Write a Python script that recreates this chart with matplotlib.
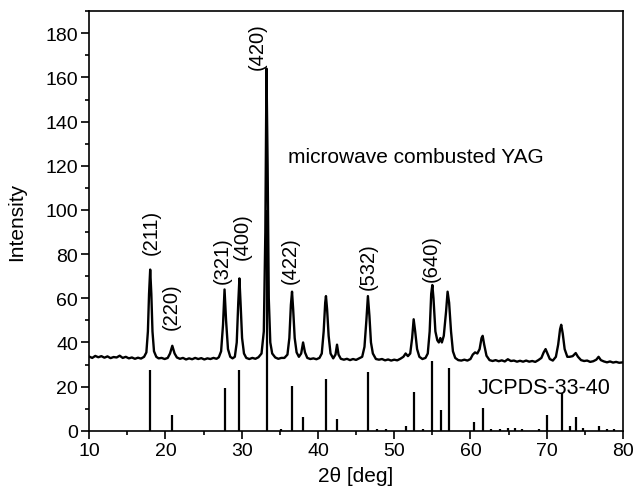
import matplotlib
matplotlib.use("Agg")
import matplotlib.pyplot as plt
from matplotlib.ticker import MultipleLocator

plt.rcParams['font.family'] = ['Liberation Sans', 'DejaVu Sans']

pattern_x = [10.0, 10.4, 10.8, 11.2, 11.6, 12.0, 12.4, 12.8, 13.2, 13.6, 14.0, 14.4, 14.8, 15.2, 15.6, 16.0, 16.4, 16.8, 17.2,
             17.5, 17.7, 17.85, 18.0, 18.15, 18.3, 18.5, 18.8, 19.1, 19.5, 19.9, 20.3, 20.6, 20.9, 21.2, 21.5, 21.9, 22.3,
             22.7, 23.1, 23.5, 23.9, 24.3, 24.7, 25.1, 25.5, 25.9, 26.3, 26.7, 27.0, 27.3, 27.55, 27.75, 27.95, 28.2, 28.5,
             28.8, 29.1, 29.35, 29.55, 29.7, 29.85, 30.05, 30.3, 30.6, 31.0, 31.4, 31.8, 32.2, 32.6, 32.9, 33.1, 33.25,
             33.4, 33.55, 33.75, 34.0, 34.4, 34.8, 35.2, 35.6, 36.0, 36.25, 36.45, 36.6, 36.75, 36.95, 37.2, 37.5, 37.8,
             38.05, 38.3, 38.6, 39.0, 39.4, 39.8, 40.2, 40.5, 40.75, 40.95, 41.05, 41.2, 41.4, 41.65, 42.0, 42.3, 42.5,
             42.7, 43.0, 43.4, 43.8, 44.2, 44.6, 45.0, 45.4, 45.8, 46.1, 46.35, 46.55, 46.75, 46.95, 47.2, 47.6, 48.0,
             48.4, 48.8, 49.2, 49.6, 50.0, 50.4, 50.8, 51.2, 51.5, 51.8, 52.1, 52.35, 52.55, 52.75, 53.0, 53.3, 53.7,
             54.1, 54.4, 54.65, 54.85, 55.0, 55.15, 55.4, 55.65, 55.85, 56.05, 56.25, 56.5, 56.8, 57.0, 57.2, 57.45,
             57.7, 58.0, 58.4, 58.8, 59.2, 59.6, 60.0, 60.3, 60.6, 60.9, 61.2, 61.45, 61.6, 61.8, 62.1, 62.5, 62.9,
             63.3, 63.7, 64.1, 64.5, 64.9, 65.3, 65.7, 66.1, 66.5, 66.9, 67.3, 67.7, 68.1, 68.5, 68.9, 69.3, 69.6,
             69.85, 70.1, 70.4, 70.8, 71.2, 71.5, 71.75, 71.9, 72.1, 72.35, 72.7, 73.0, 73.4, 73.8, 74.1, 74.5, 74.9,
             75.3, 75.7, 76.1, 76.5, 76.8, 77.1, 77.5, 77.9, 78.3, 78.7, 79.1, 79.5, 80.0]
pattern_y = [33.6, 33.0, 33.9, 33.3, 33.8, 33.1, 33.7, 32.9, 33.4, 33.2, 34.0, 33.0, 33.5, 32.8, 33.2, 32.6, 33.1, 32.7, 33.5,
             35.5, 45, 62, 73, 62, 45, 36, 33.5, 32.8, 33.0, 32.5, 33.0, 35, 38.5, 35, 33.2, 32.6, 33.0,
             32.3, 32.8, 32.4, 33.0, 32.5, 32.9, 32.3, 32.8, 32.5, 33.0, 32.6, 33.3, 36, 48, 64, 50, 37, 33.5,
             32.8, 33.5, 40, 58, 69, 58, 42, 35, 33, 32.5, 33.0, 32.6, 33.3, 35, 45, 90, 164,
             120, 60, 40, 35, 33.2, 32.6, 33.0, 33.0, 34.5, 42, 57, 63, 55, 42, 35.5, 33.5, 35,
             40, 35.5, 33, 32.5, 32.8, 32.4, 33, 35, 45, 58, 61, 55, 43, 35, 32.8, 34.5, 39,
             34.5, 32.6, 32.2, 32.6, 32.0, 32.5, 32.1, 32.8, 33.5, 38, 50, 61, 52, 40, 35, 32.5, 32.2,
             32.5, 31.9, 32.3, 31.8, 32.2, 31.9, 32.6, 33.5, 35, 33.8, 35, 42, 50.5, 45, 37, 33.5, 32.5,
             33.0, 35, 45, 62, 66, 60, 45, 41, 40, 42, 40, 43, 54, 63, 58, 45,
             36, 33, 32, 31.8, 32.2, 31.8, 32.5, 34.5, 35.5, 35, 37, 42, 43, 39, 34, 32, 31.6,
             32.0, 31.5, 31.9, 31.4, 32.4, 31.6, 31.8, 31.3, 31.7, 31.3, 31.8, 31.3, 31.6, 31.2, 32.0, 33.0, 35.5,
             37, 35, 32.5, 31.8, 33.5, 39, 46, 48, 44, 37, 33.5, 33.5, 33.8, 35.2, 33.5, 32.0, 31.6,
             31.8, 31.2, 31.5, 32.2, 33.5, 32.0, 31.4, 31.0, 31.4, 30.9, 31.2, 30.8, 31.0]

# JCPDS-33-40 reference lines
ref_pos = [18.0, 20.9, 27.8, 29.7, 33.3, 35.1, 36.6, 38.1, 41.1, 42.5, 46.6, 47.8, 48.9, 51.5, 52.6, 53.8, 55.0, 56.1,
           57.2, 60.5, 61.6, 62.7, 63.9, 64.9, 65.8, 66.8, 69.0, 70.0, 72.0, 73.0, 73.8, 74.8, 76.8, 77.9, 78.8]
ref_int = [27.5, 7.2, 19.2, 27.5, 100, 1.0, 20.3, 6.3, 23.5, 5.3, 26.6, 0.8, 0.8, 2.3, 17.4, 0.8, 31.5, 9.3,
           28.5, 4.1, 10.4, 0.8, 0.8, 1.2, 1.2, 0.8, 0.8, 7.2, 17.1, 2.3, 6.3, 1.2, 2.3, 0.8, 0.8]

# peak labels (hkl, position, label bottom)
hkl_labels = ["(211)", "(220)", "(321)", "(400)", "(420)", "(422)", "(532)", "(640)"]
hkl_x = [18.1, 20.8, 27.5, 30.1, 32.0, 36.4, 46.6, 54.9]
hkl_y = [80, 46, 67, 78, 164, 67, 64, 68]

fig = plt.figure(figsize=(6.37, 4.89), dpi=100)
ax = fig.add_axes([0.140, 0.117, 0.838, 0.858])

ax.plot(pattern_x, pattern_y, color='black', lw=1.7)
ax.vlines(ref_pos, 0, ref_int, color='black', lw=1.6)

for lab, x, y in zip(hkl_labels, hkl_x, hkl_y):
    ax.text(x, y, lab, rotation=90, ha='center', va='bottom', fontsize=14.5)

ax.text(36.1, 124, "microwave combusted YAG", ha='left', va='center', fontsize=15)
ax.text(61.0, 19.5, "JCPDS-33-40", ha='left', va='center', fontsize=15.5)

ax.set_xlim(10, 80)
ax.set_ylim(0, 190)
ax.xaxis.set_major_locator(MultipleLocator(10))
ax.xaxis.set_minor_locator(MultipleLocator(5))
ax.yaxis.set_minor_locator(MultipleLocator(10))
ax.set_yticks(range(0, 181, 20))
ax.tick_params(which='major', direction='out', length=6, width=1.2, labelsize=14, pad=2,
               top=False, right=False)
ax.tick_params(which='minor', direction='out', length=3, width=1.2, top=False, right=False)
for s in ax.spines.values():
    s.set_linewidth(1.2)

ax.set_xlabel("2θ [deg]", fontsize=15, labelpad=5)
ax.set_ylabel("Intensity", fontsize=15, labelpad=14)

fig.savefig("out.png", dpi=100)
